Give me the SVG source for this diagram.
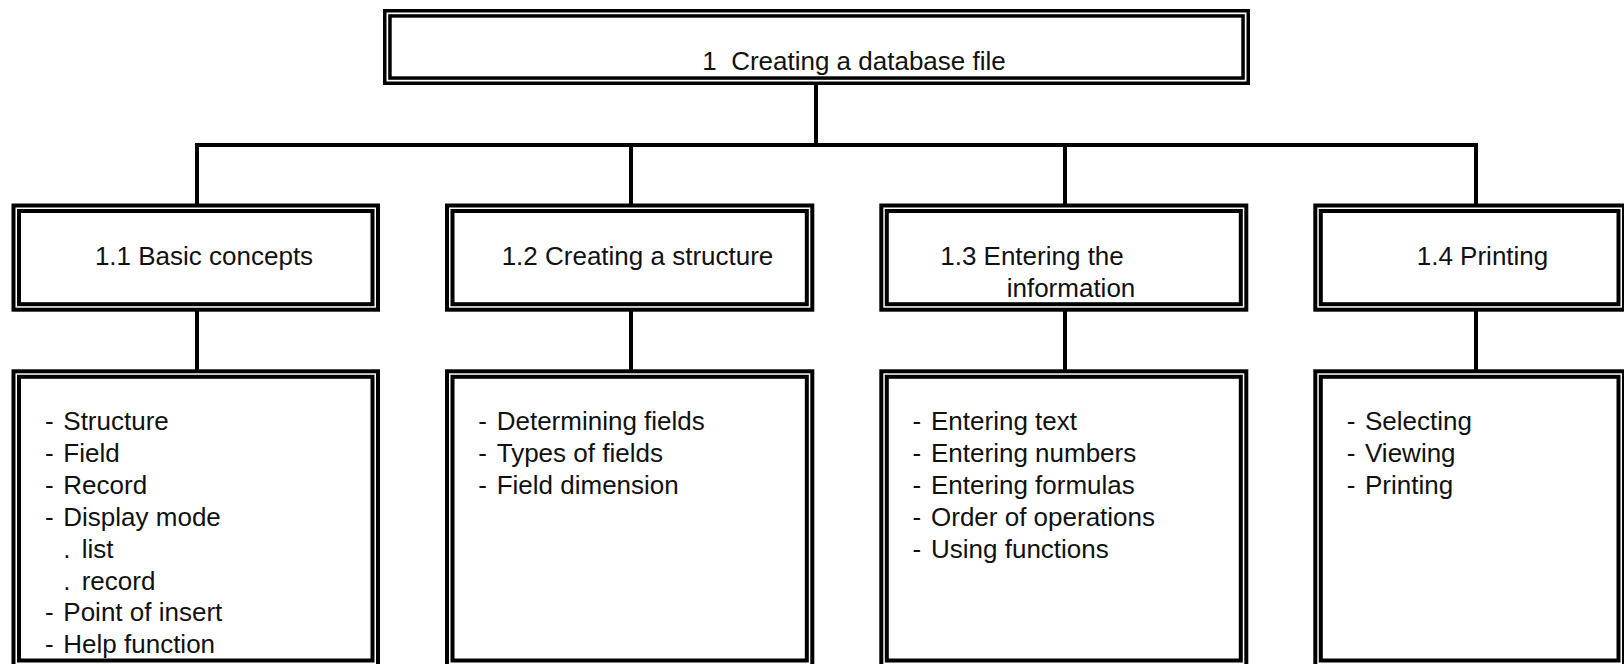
<svg xmlns="http://www.w3.org/2000/svg" width="1624" height="664" viewBox="0 0 1624 664">
<style>
  .o { fill: none; stroke: #000; stroke-width: 4; }
  .i { fill: none; stroke: #000; stroke-width: 4; }
  .ot { fill: none; stroke: #000; stroke-width: 3.5; }
  .c { fill: none; stroke: #000; stroke-width: 4; stroke-linecap: butt; }
  text { font-family: "Liberation Sans", Arial, sans-serif; font-size: 26px; fill: #111; }
  .m { text-anchor: middle; }
</style>
<rect x="0" y="0" width="1624" height="664" fill="#fff"/>

<g id="connectors">
  <line class="c" x1="816" y1="84" x2="816" y2="145"/>
  <polyline class="c" points="197,205 197,145 1476,145 1476,205"/>
  <line class="c" x1="631" y1="145" x2="631" y2="205"/>
  <line class="c" x1="1065" y1="145" x2="1065" y2="205"/>
  <line class="c" x1="197" y1="311" x2="197" y2="370"/>
  <line class="c" x1="631" y1="311" x2="631" y2="370"/>
  <line class="c" x1="1065" y1="311" x2="1065" y2="370"/>
  <line class="c" x1="1476" y1="311" x2="1476" y2="370"/>
</g>

<g id="n1">
  <rect x="0" y="9" width="1624" height="0" fill="none"/>
  <rect class="ot" x="384.75" y="10.75" width="863.5" height="72.5" fill="#fff"/>
  <rect class="ot" x="389.95" y="15.95" width="853.1" height="62.1"/>
  <text x="854" y="70" class="m" xml:space="preserve">1  Creating a database file</text>
</g>

<g id="n11">
  <rect class="o" x="13.5" y="205.5" width="364.5" height="104.2" fill="#fff"/>
  <rect class="i" x="19" y="211" width="353.5" height="93.2"/>
  <text x="204" y="265" class="m">1.1 Basic concepts</text>
</g>
<g id="n12">
  <rect class="o" x="447" y="205.5" width="365.3" height="104.2" fill="#fff"/>
  <rect class="i" x="452.5" y="211" width="354.3" height="93.2"/>
  <text x="637.5" y="265" class="m">1.2 Creating a structure</text>
</g>
<g id="n13">
  <rect class="o" x="881.3" y="205.5" width="365" height="104.2" fill="#fff"/>
  <rect class="i" x="886.8" y="211" width="354" height="93.2"/>
  <text x="1032" y="265" class="m">1.3 Entering the</text>
  <text x="1071" y="296.5" class="m">information</text>
</g>
<g id="n14">
  <rect class="o" x="1315.3" y="205.5" width="308.7" height="104.2" fill="#fff"/>
  <rect class="i" x="1320.8" y="211" width="297.7" height="93.2"/>
  <text x="1482.5" y="265" class="m">1.4 Printing</text>
</g>

<g id="n11d">
  <rect class="o" x="13.5" y="371.3" width="364.5" height="294.7" fill="#fff"/>
  <rect class="i" x="19" y="376.8" width="353.5" height="283.7"/>
  <text x="45" y="430">-</text><text x="63.3" y="430">Structure</text>
  <text x="45" y="461.9">-</text><text x="63.3" y="461.9">Field</text>
  <text x="45" y="493.8">-</text><text x="63.3" y="493.8">Record</text>
  <text x="45" y="525.7">-</text><text x="63.3" y="525.7">Display mode</text>
  <text x="63.3" y="557.6">.</text><text x="81.7" y="557.6">list</text>
  <text x="63.3" y="589.5">.</text><text x="81.7" y="589.5">record</text>
  <text x="45" y="621.4">-</text><text x="63.3" y="621.4">Point of insert</text>
  <text x="45" y="653.3">-</text><text x="63.3" y="653.3">Help function</text>
</g>
<g id="n12d">
  <rect class="o" x="447" y="371.3" width="365.3" height="294.7" fill="#fff"/>
  <rect class="i" x="452.5" y="376.8" width="354.3" height="283.7"/>
  <text x="478.3" y="430">-</text><text x="496.7" y="430">Determining fields</text>
  <text x="478.3" y="461.9">-</text><text x="496.7" y="461.9">Types of fields</text>
  <text x="478.3" y="493.8">-</text><text x="496.7" y="493.8">Field dimension</text>
</g>
<g id="n13d">
  <rect class="o" x="881.3" y="371.3" width="365" height="294.7" fill="#fff"/>
  <rect class="i" x="886.8" y="376.8" width="354" height="283.7"/>
  <text x="912.5" y="430">-</text><text x="931" y="430">Entering text</text>
  <text x="912.5" y="461.9">-</text><text x="931" y="461.9">Entering numbers</text>
  <text x="912.5" y="493.8">-</text><text x="931" y="493.8">Entering formulas</text>
  <text x="912.5" y="525.7">-</text><text x="931" y="525.7">Order of operations</text>
  <text x="912.5" y="557.6">-</text><text x="931" y="557.6">Using functions</text>
</g>
<g id="n14d">
  <rect class="o" x="1315.3" y="371.3" width="308.7" height="294.7" fill="#fff"/>
  <rect class="i" x="1320.8" y="376.8" width="297.7" height="283.7"/>
  <text x="1346.7" y="430">-</text><text x="1365" y="430">Selecting</text>
  <text x="1346.7" y="461.9">-</text><text x="1365" y="461.9">Viewing</text>
  <text x="1346.7" y="493.8">-</text><text x="1365" y="493.8">Printing</text>
</g>
</svg>
